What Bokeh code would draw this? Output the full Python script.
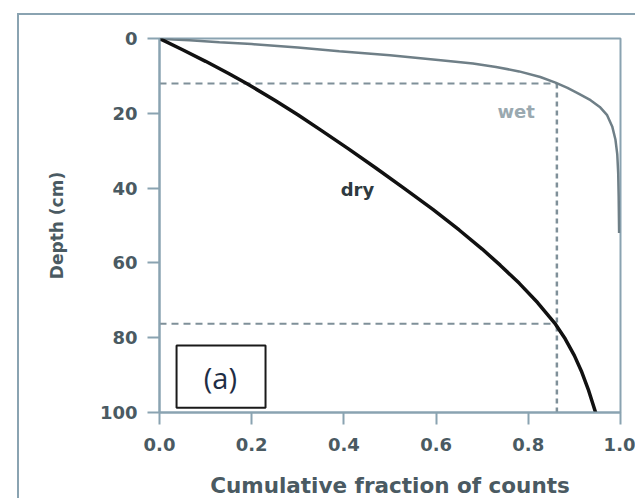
from bokeh.plotting import figure
from bokeh.models import Range1d, FixedTicker, NumeralTickFormatter, Label, BoxAnnotation
from bokeh.embed import file_html
from bokeh.resources import INLINE

# ---- data ----
dry_fraction = [0.0, 0.05, 0.10, 0.15, 0.19, 0.25, 0.30, 0.35, 0.41, 0.47, 0.53, 0.593, 0.65, 0.70,
                0.739, 0.78, 0.82, 0.859, 0.88, 0.90, 0.915, 0.93, 0.946]
dry_depth    = [0.0, 3.0, 6.1, 9.35, 12.1, 16.5, 20.4, 24.5, 29.5, 34.7, 40.0, 45.7, 51.2, 56.3,
                60.6, 65.4, 70.6, 76.4, 80.3, 84.8, 88.9, 93.8, 100.0]

wet_fraction = [0.0, 0.03, 0.065, 0.13, 0.2, 0.3, 0.39, 0.5, 0.61, 0.68, 0.73, 0.78, 0.826, 0.859, 0.885,
                0.91, 0.935, 0.955, 0.971, 0.982, 0.989, 0.993, 0.995, 0.996, 0.997]
wet_depth    = [0.0, 0.25, 0.5, 1.0, 1.5, 2.4, 3.4, 4.5, 5.8, 6.7, 7.6, 8.8, 10.3, 11.8, 13.2,
                14.8, 16.5, 18.3, 20.5, 23.5, 27.0, 31.0, 36.0, 42.0, 52.0]

cut_fraction = 0.862
wet_cut_depth = 12.0
dry_cut_depth = 76.3

x_ticks = [0.0, 0.2, 0.4, 0.6, 0.8, 1.0]
y_ticks = [0, 20, 40, 60, 80, 100]

FRAME = "#8aa3b1"
TXT = "#4a5a62"
FONT = "DejaVu Sans"

p = figure(width=618, height=485, x_range=Range1d(0, 1), y_range=Range1d(100, 0),
           output_backend="svg", toolbar_location=None,
           min_border_left=140, min_border_right=17, min_border_top=23, min_border_bottom=87)
# outer picture border: only left and top edges are visible in the reference
p.styles = {"transform": "translate(17px, 13px)",
            "border-left": "2px solid " + FRAME, "border-top": "2px solid " + FRAME}

p.grid.visible = False
p.outline_line_color = FRAME
p.outline_line_width = 2
p.background_fill_color = "white"
p.border_fill_color = "white"

p.xaxis.ticker = FixedTicker(ticks=x_ticks)
p.xaxis.formatter = NumeralTickFormatter(format="0.0")
p.yaxis.ticker = FixedTicker(ticks=y_ticks)

for ax in (p.xaxis[0], p.yaxis[0]):
    ax.axis_line_color = FRAME
    ax.axis_line_width = 2
    ax.major_tick_line_color = FRAME
    ax.major_tick_line_width = 2
    ax.major_tick_in = 0
    ax.major_tick_out = 12
    ax.minor_tick_line_color = None
    ax.major_label_text_font = FONT
    ax.major_label_text_font_size = "18px"
    ax.major_label_text_font_style = "bold"
    ax.major_label_text_color = TXT
    ax.axis_label_text_font = FONT
    ax.axis_label_text_font_style = "bold"
    ax.axis_label_text_color = TXT

p.xaxis.axis_label = "Cumulative fraction of counts"
p.yaxis.axis_label = "Depth (cm)"
p.xaxis.axis_label_text_font_size = "21.5px"
p.yaxis.axis_label_text_font_size = "17px"
p.xaxis.major_label_standoff = 13
p.yaxis.major_label_standoff = 10
p.xaxis.axis_label_standoff = 19
p.yaxis.axis_label_standoff = 30

# dashed guide lines
DASH = "#7f9099"
p.line([0, cut_fraction], [wet_cut_depth, wet_cut_depth], line_color=DASH, line_width=2, line_dash="7 5")
p.line([0, cut_fraction], [dry_cut_depth, dry_cut_depth], line_color=DASH, line_width=2, line_dash="7 5")
p.line([cut_fraction, cut_fraction], [wet_cut_depth, 100], line_color=DASH, line_width=2.5, line_dash="5 4")

# curves
p.line(wet_fraction, wet_depth, line_color="#6f7f87", line_width=2.5)
p.line(dry_fraction, dry_depth, line_color="#111111", line_width=3.5)

p.add_layout(Label(x=0.733, y=19.5, text="wet", text_font=FONT, text_font_size="18px",
                   text_font_style="bold", text_color="#9aa9b0", text_baseline="middle"))
p.add_layout(Label(x=0.393, y=40.5, text="dry", text_font=FONT, text_font_size="18px",
                   text_font_style="bold", text_color="#2e3a40", text_baseline="middle"))

p.add_layout(BoxAnnotation(left=0.037, right=0.23, top=82.1, bottom=98.7, fill_color="white",
                           fill_alpha=1, line_color="#1a1a1a", line_alpha=1, line_width=2))
p.add_layout(Label(x=0.132, y=90.7, text="(a)", text_font="Open Sans", text_font_size="29px",
                   text_color="#1f2d45", text_align="center", text_baseline="middle"))

open("out.html", "w").write(file_html(p, INLINE))
